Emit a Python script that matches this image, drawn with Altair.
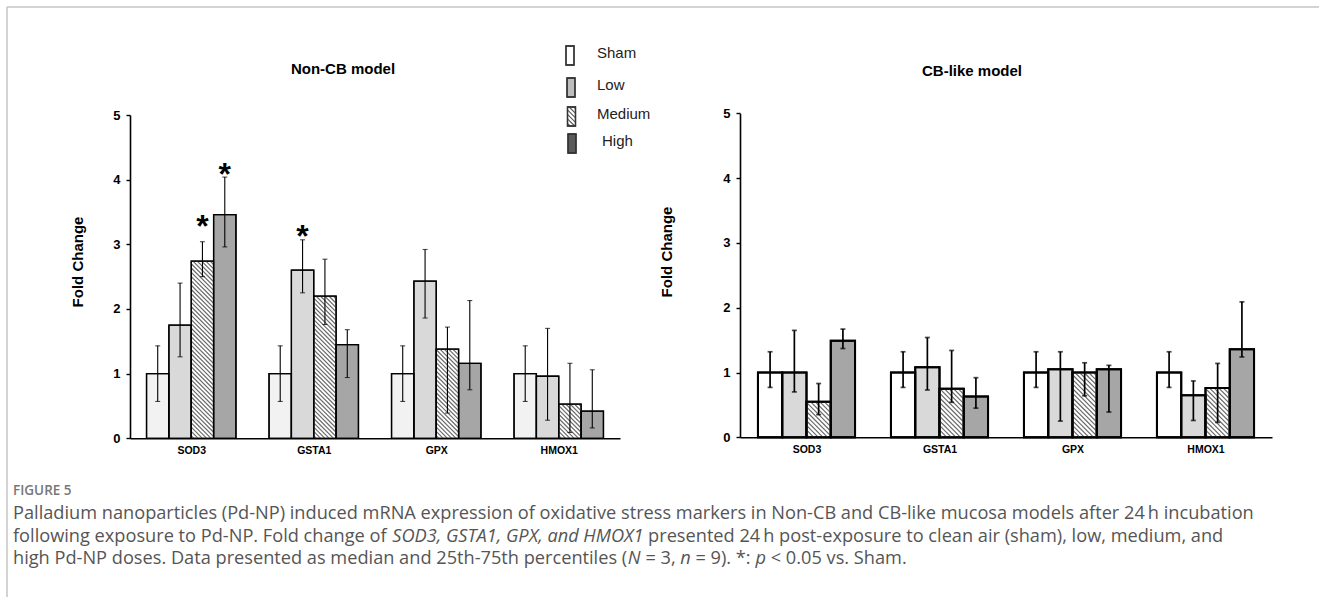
import altair as alt
import pandas as pd

# ---------------- data ----------------
genes = ["SOD3", "GSTA1", "GPX", "HMOX1"]
doses = ["Sham", "Low", "Medium", "High"]

# Non-CB model: rows = genes, cols = doses
noncb_median = [[1.00, 1.75, 2.74, 3.46],
                [1.00, 2.60, 2.20, 1.45],
                [1.00, 2.43, 1.38, 1.16],
                [1.00, 0.96, 0.53, 0.42]]
noncb_q25 = [[0.57, 1.26, 2.50, 2.96],
             [0.57, 2.25, 1.76, 0.94],
             [0.57, 1.86, 0.39, 0.75],
             [0.57, 0.28, 0.09, 0.16]]
noncb_q75 = [[1.43, 2.40, 3.04, 4.04],
             [1.43, 3.07, 2.77, 1.68],
             [1.43, 2.92, 1.72, 2.13],
             [1.43, 1.70, 1.16, 1.06]]
noncb_stars = [("SOD3", "Medium", 3.39), ("SOD3", "High", 4.20), ("GSTA1", "Low", 3.23)]

# CB-like model
cb_median = [[1.00, 1.00, 0.55, 1.49],
             [1.00, 1.08, 0.75, 0.63],
             [1.00, 1.05, 1.00, 1.05],
             [1.00, 0.65, 0.76, 1.36]]
cb_q25 = [[0.77, 0.70, 0.35, 1.37],
          [0.77, 0.73, 0.54, 0.45],
          [0.77, 0.25, 0.64, 0.39],
          [0.77, 0.26, 0.23, 1.24]]
cb_q75 = [[1.32, 1.65, 0.83, 1.67],
          [1.32, 1.54, 1.34, 0.92],
          [1.32, 1.32, 1.15, 1.11],
          [1.32, 0.87, 1.14, 2.09]]
cb_stars = []

y_ticks = [0, 1, 2, 3, 4, 5]

caption_title = "FIGURE 5"
# caption lines as (text, italic) runs
caption_lines = [
    [("Palladium nanoparticles (Pd-NP) induced mRNA expression of oxidative stress markers in Non-CB and CB-like mucosa models after 24\u2009h incubation", False)],
    [("following exposure to Pd-NP. Fold change of ", False), ("SOD3, GSTA1, GPX, and HMOX1", True),
     (" presented 24\u2009h post-exposure to clean air (sham), low, medium, and", False)],
    [("high Pd-NP doses. Data presented as median and 25th-75th percentiles (", False), ("N", True),
     (" = 3, ", False), ("n", True), (" = 9). *: ", False), ("p", True),
     (" < 0.05 vs. Sham.", False)],
]

# ---------------- layout ----------------
W, H = 1319, 597
FONT = "Liberation Sans"
CAP_FONT = "Open Sans"
CAP_SIZE = 18.2
GROUP_W = 0.73

panels = [
    dict(title="Non-CB model", med=noncb_median, q25=noncb_q25, q75=noncb_q75, stars=noncb_stars,
         xr=[130, 620], yr=[438.3, 115], fills=["#f2f2f2", "#d9d9d9", "#ffffff", "#a6a6a6"],
         bar_sw=1.3, err_sw=1.1, hatch_sp=4.3, title_x=343, title_y=69, yt_x=78, yt_y=262),
    dict(title="CB-like model", med=cb_median, q25=cb_q25, q75=cb_q75, stars=cb_stars,
         xr=[740, 1272], yr=[437.3, 113.3], fills=["#ffffff", "#d9d9d9", "#ffffff", "#a6a6a6"],
         bar_sw=2.0, err_sw=1.7, hatch_sp=4.6, title_x=972, title_y=71, yt_x=667, yt_y=252),
]

# approximate Open Sans advance widths (units per em = 2048) for laying out mixed-style runs
_ADV = {" ": 532, "\u2009": 420, "(": 606, ")": 606, "*": 1130, ",": 502, "-": 659, ".": 545,
        ":": 545, "<": 1171, "=": 1171,
        "A": 1296, "B": 1327, "C": 1292, "D": 1493, "E": 1139, "F": 1057, "G": 1491, "H": 1511,
        "I": 571, "J": 547, "K": 1257, "L": 1073, "M": 1849, "N": 1544, "O": 1595, "P": 1233,
        "Q": 1595, "R": 1266, "S": 1104, "T": 1133, "U": 1491, "V": 1219, "W": 1896, "X": 1182,
        "Y": 1147, "Z": 1169,
        "a": 1139, "b": 1255, "c": 975, "d": 1255, "e": 1149, "f": 694, "g": 1122, "h": 1257,
        "i": 518, "j": 518, "k": 1075, "l": 518, "m": 1905, "n": 1257, "o": 1237, "p": 1255,
        "q": 1255, "r": 836, "s": 977, "t": 723, "u": 1257, "v": 1026, "w": 1593, "x": 1073,
        "y": 1028, "z": 977}


def text_w(s, size, italic=False):
    u = sum(_ADV.get(ch, 1171) for ch in s)
    return u / 2048.0 * size * (0.94 if italic else 1.0)


def hatch(x0, x1, top, sx, sy, sp):
    wp, hp = (x1 - x0) * sx, top * sy
    out = []
    k = sp * 0.6
    while k < wp + hp:
        u0, u1 = max(0.0, k - hp), min(wp, k)
        out.append((x0 + u0 / sx, (k - u0) / sy, x0 + u1 / sx, (k - u1) / sy))
        k += sp
    return out


def panel_layers(p):
    sx = (p["xr"][1] - p["xr"][0]) / len(genes)
    sy = (p["yr"][0] - p["yr"][1]) / 5.0
    bw = GROUP_W / len(doses)
    rows, hrows = [], []
    for gi, g in enumerate(genes):
        for di, d in enumerate(doses):
            xc = gi - GROUP_W / 2 + (di + 0.5) * bw
            v = p["med"][gi][di]
            rows.append(dict(gene=g, dose=d, xc=xc, x0=xc - bw / 2, x1=xc + bw / 2,
                             med=v, base=0.0, lo=p["q25"][gi][di], hi=p["q75"][gi][di]))
            if d == "Medium":
                for (a, b, c, e) in hatch(xc - bw / 2, xc + bw / 2, v, sx, sy, p["hatch_sp"]):
                    hrows.append(dict(hx0=a, hy0=b, hx1=c, hy1=e))
    df = pd.DataFrame(rows)
    hdf = pd.DataFrame(hrows)
    xs = alt.Scale(domain=[-0.5, len(genes) - 0.5], range=p["xr"], nice=False, zero=False)
    ys = alt.Scale(domain=[0, 5], range=p["yr"], nice=False)
    label_expr = "[" + ",".join("'%s'" % g for g in genes) + "][datum.value]"
    xaxis = alt.Axis(orient="bottom", offset=p["yr"][0] - H, values=list(range(len(genes))),
                     labelExpr=label_expr, ticks=False, grid=False, title=None,
                     domainColor="#000", domainWidth=1.6, labelFont=FONT, labelFontWeight="bold",
                     labelFontSize=10.5, labelColor="#000", labelPadding=7, labelFlush=False,
                     labelOverlap=False)
    yaxis = alt.Axis(orient="left", offset=-p["xr"][0], values=y_ticks, format="d", grid=False,
                     title=None, domainColor="#000", domainWidth=1.6, tickColor="#000",
                     tickWidth=1.4, tickSize=4, labelFont=FONT, labelFontWeight="bold",
                     labelFontSize=13, labelColor="#000", labelPadding=6)

    bars = alt.Chart(df).mark_rect(stroke="#000", strokeWidth=p["bar_sw"]).encode(
        x=alt.X("x0:Q", scale=xs, axis=xaxis),
        x2="x1:Q",
        y=alt.Y("med:Q", scale=ys, axis=yaxis),
        y2="base:Q",
        fill=alt.Fill("dose:N", scale=alt.Scale(domain=doses, range=p["fills"]), legend=None),
    )
    hatch_l = alt.Chart(hdf).mark_rule(color="#6a6a6a", strokeWidth=1.2).encode(
        x=alt.X("hx0:Q", scale=xs, axis=None), x2="hx1:Q",
        y=alt.Y("hy0:Q", scale=ys, axis=None), y2="hy1:Q",
    )
    outline = alt.Chart(df).mark_rect(fillOpacity=0, stroke="#000", strokeWidth=p["bar_sw"]).encode(
        x=alt.X("x0:Q", scale=xs, axis=None), x2="x1:Q",
        y=alt.Y("med:Q", scale=ys, axis=None), y2="base:Q",
    )
    err = alt.Chart(df).mark_rule(color="#000", strokeWidth=p["err_sw"]).encode(
        x=alt.X("xc:Q", scale=xs, axis=None),
        y=alt.Y("lo:Q", scale=ys, axis=None), y2="hi:Q",
    )
    cap_lo = alt.Chart(df).mark_tick(orient="horizontal", size=5, thickness=p["err_sw"], color="#000").encode(
        x=alt.X("xc:Q", scale=xs, axis=None), y=alt.Y("lo:Q", scale=ys, axis=None))
    cap_hi = alt.Chart(df).mark_tick(orient="horizontal", size=5, thickness=p["err_sw"], color="#000").encode(
        x=alt.X("xc:Q", scale=xs, axis=None), y=alt.Y("hi:Q", scale=ys, axis=None))
    layers = [bars, hatch_l, outline, err, cap_lo, cap_hi]
    if p["stars"]:
        srows = []
        for (g, d, sv) in p["stars"]:
            gi, di = genes.index(g), doses.index(d)
            srows.append(dict(xc=gi - GROUP_W / 2 + (di + 0.5) * bw, sy=sv, t="*"))
        stars = alt.Chart(pd.DataFrame(srows)).mark_text(
            font=FONT, fontWeight="bold", fontSize=32, color="#000", baseline="alphabetic", dy=18
        ).encode(x=alt.X("xc:Q", scale=xs, axis=None), y=alt.Y("sy:Q", scale=ys, axis=None), text="t:N")
        layers.append(stars)
    return layers


# ---------------- annotations (pixel positions) ----------------
ann = pd.DataFrame([dict(t=p["title"], px=p["title_x"], py=p["title_y"]) for p in panels])
titles = alt.Chart(ann).mark_text(font=FONT, fontWeight="bold", fontSize=15, color="#000",
                                  baseline="middle", align="center").encode(
    x=alt.X("px:Q", scale=None), y=alt.Y("py:Q", scale=None), text="t:N")

yt = pd.DataFrame([dict(t="Fold Change", px=p["yt_x"], py=p["yt_y"]) for p in panels])
ytitles = alt.Chart(yt).mark_text(font=FONT, fontWeight="bold", fontSize=15, color="#000",
                                  baseline="middle", align="center", angle=270).encode(
    x=alt.X("px:Q", scale=None), y=alt.Y("py:Q", scale=None), text="t:N")

# legend
leg_fills = ["#ffffff", "#bdbdbd", "#ffffff", "#5a5a5a"]
leg_x = [566, 567, 567.5, 568]
leg_y = [46, 78, 107, 134]
leg_rows, leg_h = [], []
for i, d in enumerate(doses):
    x0, y0 = leg_x[i], leg_y[i]
    leg_rows.append(dict(dose=d, x0=x0, x1=x0 + 8, y0=y0, y1=y0 + 19, fill=leg_fills[i],
                         lx=597 if d != "High" else 602, ly=y0 + 7))
    if d == "Medium":
        for (a, b, c, e) in hatch(0, 8, 19, 1, 1, 4.5):
            leg_h.append(dict(a=x0 + a, b=y0 + 19 - b, c=x0 + c, e=y0 + 19 - e))
leg = pd.DataFrame(leg_rows)
leg_rect = alt.Chart(leg).mark_rect(stroke="#333", strokeWidth=1.3).encode(
    x=alt.X("x0:Q", scale=None), x2="x1:Q", y=alt.Y("y0:Q", scale=None), y2="y1:Q",
    fill=alt.Fill("fill:N", scale=None))
leg_hatch = alt.Chart(pd.DataFrame(leg_h)).mark_rule(color="#555", strokeWidth=1.1).encode(
    x=alt.X("a:Q", scale=None), x2="c:Q", y=alt.Y("b:Q", scale=None), y2="e:Q")
leg_out = alt.Chart(leg).mark_rect(fillOpacity=0, stroke="#333", strokeWidth=1.3).encode(
    x=alt.X("x0:Q", scale=None), x2="x1:Q", y=alt.Y("y0:Q", scale=None), y2="y1:Q")
leg_text = alt.Chart(leg).mark_text(font=FONT, fontSize=15, color="#222", align="left",
                                    baseline="middle").encode(
    x=alt.X("lx:Q", scale=None), y=alt.Y("ly:Q", scale=None), text="dose:N")

# caption runs laid out left to right
CAP_X0 = 13
CAP_Y = [519, 541.5, 564]
reg_rows, it_rows = [], []
for li, runs in enumerate(caption_lines):
    cx = CAP_X0
    for (s, it) in runs:
        lead = len(s) - len(s.lstrip(" "))
        xpos = cx + text_w(s[:lead], CAP_SIZE, it)
        (it_rows if it else reg_rows).append(dict(t=s.strip(" "), px=xpos, py=CAP_Y[li]))
        cx += text_w(s, CAP_SIZE, it)
cap1 = alt.Chart(pd.DataFrame(reg_rows)).mark_text(font=CAP_FONT, fontSize=CAP_SIZE, color="#555",
                                                   align="left", baseline="alphabetic").encode(
    x=alt.X("px:Q", scale=None), y=alt.Y("py:Q", scale=None), text="t:N")
cap2 = alt.Chart(pd.DataFrame(it_rows)).mark_text(font=CAP_FONT, fontSize=CAP_SIZE, color="#555",
                                                  align="left", baseline="alphabetic",
                                                  fontStyle="italic").encode(
    x=alt.X("px:Q", scale=None), y=alt.Y("py:Q", scale=None), text="t:N")
fig = alt.Chart(pd.DataFrame([dict(t=caption_title, px=CAP_X0, py=495)])).mark_text(
    font=CAP_FONT, fontSize=13.5, fontWeight=600, color="#777", align="left", baseline="alphabetic"
).encode(x=alt.X("px:Q", scale=None), y=alt.Y("py:Q", scale=None), text="t:N")

frame = pd.DataFrame([dict(x0=7, x1=W, y0=7, y1=7), dict(x0=7, x1=7, y0=7, y1=H)])
frame_l = alt.Chart(frame).mark_rule(color="#c4c4c4", strokeWidth=1.5).encode(
    x=alt.X("x0:Q", scale=None), x2="x1:Q", y=alt.Y("y0:Q", scale=None), y2="y1:Q")

all_layers = [frame_l] + panel_layers(panels[0]) + panel_layers(panels[1]) + [
    titles, ytitles, leg_rect, leg_hatch, leg_out, leg_text, cap1, cap2, fig]

chart = alt.layer(*all_layers).resolve_scale(
    x="independent", y="independent", fill="independent"
).properties(
    width=W, height=H, autosize=alt.AutoSizeParams(type="none"), padding=0,
    background="#ffffff"
).configure_view(stroke=None)

chart.save("out.html", embed_options={"renderer": "svg", "actions": False})
